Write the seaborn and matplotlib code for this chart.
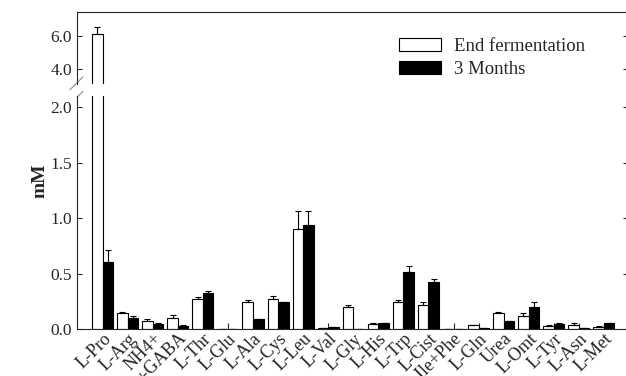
import matplotlib
matplotlib.use("Agg")
import matplotlib.pyplot as plt
import matplotlib.patches as mpatches
import seaborn as sns
import numpy as np
import pandas as pd

# 數據
amino_acids = ["L-Pro", "L-Arg", "NH4+", "γ-GABA", "L-Thr", "L-Glu", "L-Ala", "L-Cys",
               "L-Leu", "L-Val", "L-Gly", "L-His", "L-Trp", "L-Cist", "L-Ile+Phe",
               "L-Gln", "Urea", "L-Omt", "L-Tyr", "L-Asn", "L-Met"]
end_ferm = [6.10, 0.14, 0.07, 0.10, 0.27, 0.0, 0.245, 0.27, 0.90, 0.005, 0.195, 0.045,
            0.24, 0.22, 0.0, 0.035, 0.14, 0.12, 0.03, 0.04, 0.02]
end_ferm_err = [0.42, 0.01, 0.02, 0.025, 0.02, 0.0, 0.015, 0.03, 0.16, 0.0, 0.02, 0.005,
                0.02, 0.02, 0.0, 0.005, 0.015, 0.02, 0.005, 0.015, 0.005]
three_months = [0.60, 0.10, 0.045, 0.03, 0.32, 0.0, 0.088, 0.24, 0.94, 0.015, 0.0, 0.05,
                0.51, 0.42, 0.0, 0.01, 0.07, 0.20, 0.045, 0.01, 0.05]
three_months_err = [0.11, 0.02, 0.005, 0.005, 0.025, 0.0, 0.005, 0.005, 0.12, 0.005, 0.0, 0.005,
                    0.06, 0.03, 0.0, 0.002, 0.005, 0.045, 0.005, 0.003, 0.005]
series_names = ["End fermentation", "3 Months"]

df = pd.DataFrame({
    "aa": amino_acids * 2,
    "value": end_ferm + three_months,
    "err": end_ferm_err + three_months_err,
    "series": [series_names[0]] * len(amino_acids) + [series_names[1]] * len(amino_acids),
})

sns.set_style("ticks")
plt.rcParams['font.family'] = ['Liberation Serif', 'DejaVu Serif']
plt.rcParams['xtick.direction'] = 'in'
plt.rcParams['ytick.direction'] = 'in'

W, H = 626, 376
fig = plt.figure(figsize=(W / 100, H / 100), dpi=100)
left = 77 / W
width = 1.0 - left + 1.5 / W
ax_top = fig.add_axes([left, 1 - 84 / H, width, 72 / H])
ax_bot = fig.add_axes([left, 1 - 329 / H, width, 233 / H])

palette = {series_names[0]: "white", series_names[1]: "black"}

for ax in (ax_top, ax_bot):
    sns.barplot(data=df, x="aa", y="value", hue="series", palette=palette,
                edgecolor="black", linewidth=0.8, width=0.84, errorbar=None,
                legend=False, ax=ax)
    # 只畫向上的誤差線
    for cont, errs in zip(ax.containers, [end_ferm_err, three_months_err]):
        xs = [b.get_x() + b.get_width() / 2 for b in cont]
        ys = [b.get_height() for b in cont]
        ax.errorbar(xs, ys, yerr=[np.zeros(len(errs)), errs], fmt="none",
                    ecolor="black", elinewidth=0.8, capsize=2.5, capthick=0.8)
    ax.set_xlim(-1.02, len(amino_acids) - 0.06)
    ax.set_xlabel("")
    ax.set_ylabel("")
    for s in ax.spines.values():
        s.set_linewidth(0.8)
    ax.tick_params(axis="y", length=3.5, width=0.8, labelsize=12.5, right=True)
    ax.tick_params(axis="x", length=4.5, width=0.8)

ax_top.set_ylim(3.1, 7.45)
ax_top.set_yticks([4.0, 6.0])
ax_top.set_yticklabels(["4.0", "6.0"])
ax_top.spines["bottom"].set_visible(False)
ax_top.tick_params(axis="x", bottom=False, labelbottom=False)

ax_bot.set_ylim(0, 2.1)
ax_bot.set_yticks([0.0, 0.5, 1.0, 1.5, 2.0])
ax_bot.set_yticklabels(["0.0", "0.5", "1.0", "1.5", "2.0"])
ax_bot.spines["top"].set_visible(False)
ax_bot.tick_params(axis="x", labelsize=13, pad=1)
plt.setp(ax_bot.get_xticklabels(), rotation=45, ha="right", va="top",
         rotation_mode="anchor")

# 斷軸標記
kw = dict(color="gray", lw=0.7, clip_on=False)
ax_top.plot([-0.013, 0.011], [-0.08, 0.10], transform=ax_top.transAxes, **kw)
ax_bot.plot([0.0, 0.011], [0.995, 1.02], transform=ax_bot.transAxes, **kw)

fig.text(40 / W, 1 - 181 / H, "mM", rotation=90, fontsize=14, fontweight="bold",
         ha="center", va="center")

handles = [mpatches.Patch(facecolor=palette[n], edgecolor="black", linewidth=0.8, label=n)
           for n in series_names]
fig.legend(handles=handles, loc="upper left", bbox_to_anchor=(399 / W, 1 - 38 / H),
           frameon=False, fontsize=13.5, handlelength=2.25, handleheight=0.7,
           handletextpad=0.7, labelspacing=0.3, borderpad=0, borderaxespad=0)

fig.savefig("out.png", dpi=100)
